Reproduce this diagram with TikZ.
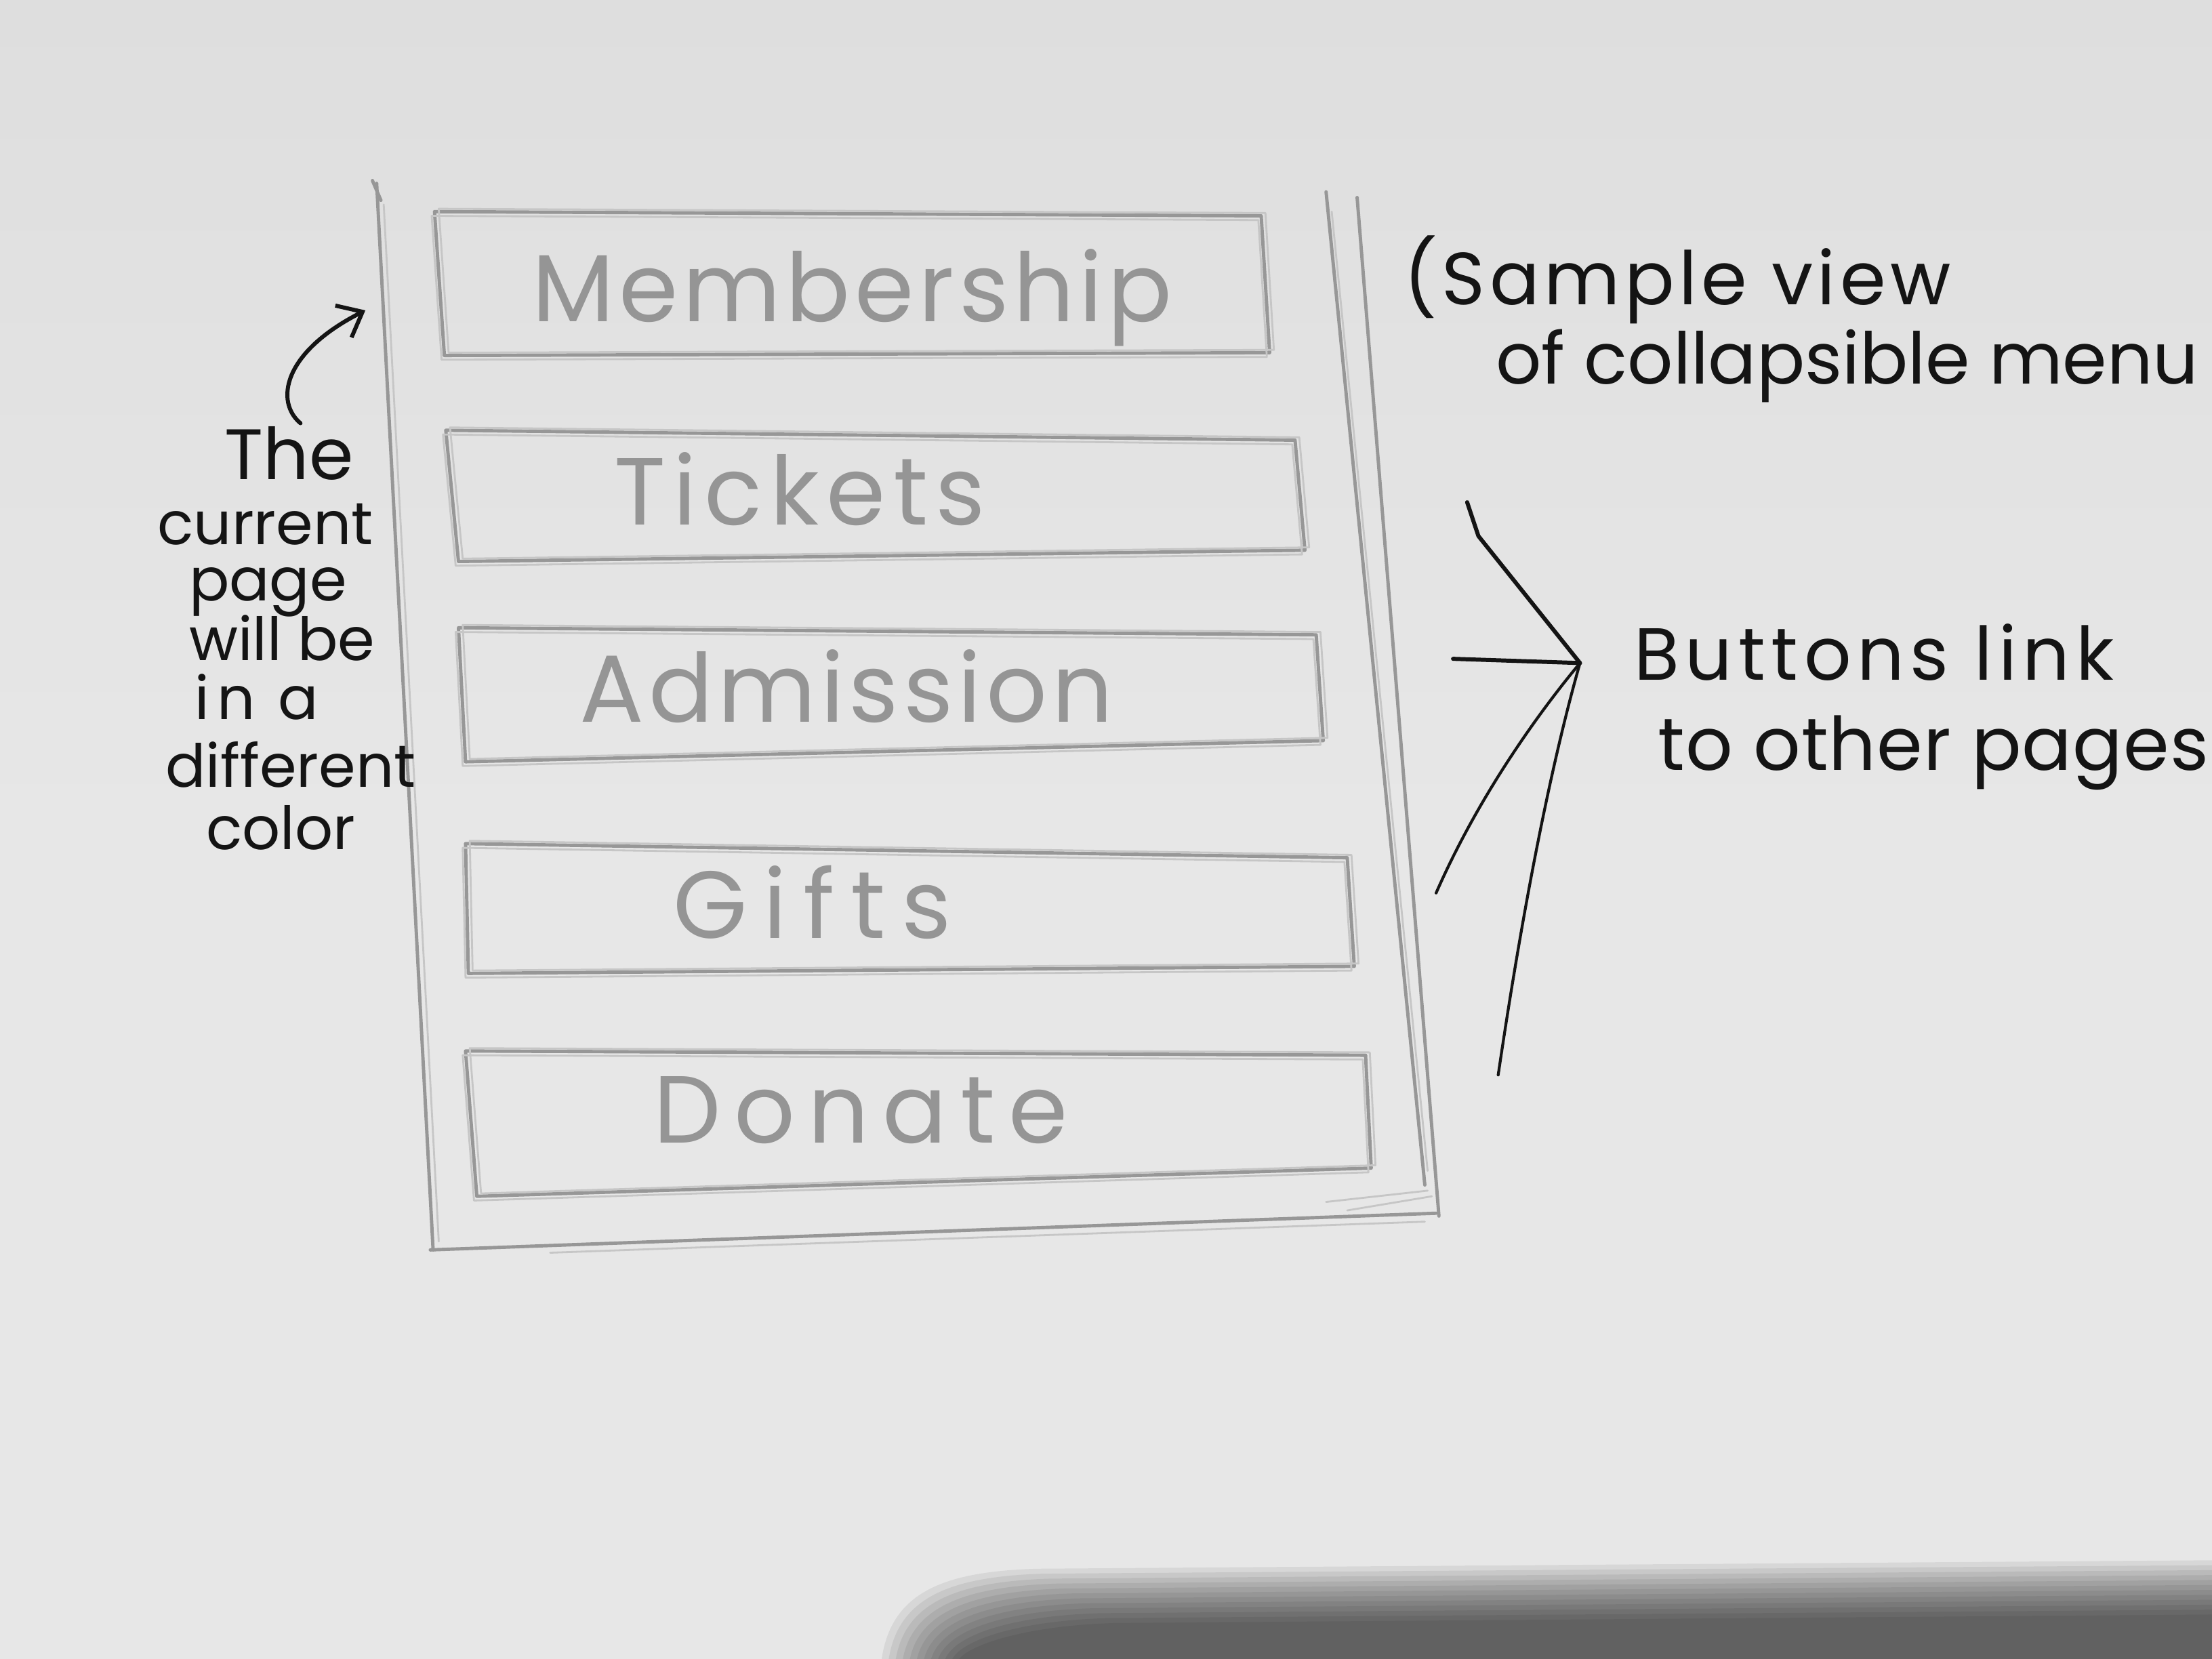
\documentclass[tikz,border=0pt]{standalone}
\usepackage{fontspec}
\setmainfont{Poppins}
\usetikzlibrary{arrows.meta}
\definecolor{paper}{HTML}{E7E7E7}
\definecolor{papertop}{HTML}{DEDEDE}
\definecolor{pencil}{HTML}{979797}
\definecolor{penciltext}{HTML}{959595}
\definecolor{ink}{HTML}{141414}
\newcommand\skbox[4]{%
  \draw[pencilline] #1 -- #2 -- #3 -- #4 -- cycle;
  \draw[pencilfaint,shift={(3,-2)}] #1 -- #2 -- #3 -- #4 -- cycle;
  \draw[pencilfaint,shift={(-2,3)}] #1 -- #2 -- #3 -- #4 -- cycle;}
\begin{document}
\begin{tikzpicture}[x=0.02082cm,y=-0.02082cm,
  pencilline/.style={draw=pencil,line width=1.4pt,line cap=round,line join=round},
  pencilfaint/.style={draw=pencil!55,line width=0.8pt,line cap=round,line join=round},
  inkline/.style={draw=ink,line width=1.7pt,line cap=round,line join=round},
  btntext/.style={text=penciltext,font=\fontsize{40}{48}\selectfont\addfontfeature{LetterSpace=#1},inner sep=0pt,anchor=base},
  btntext/.default=5,
  note/.style={text=ink,font=\fontsize{31}{36}\selectfont\addfontfeature{LetterSpace=#1},inner sep=0pt,anchor=base west},
  note/.default=6,
  leftnote/.style={text=ink,font=\fontsize{25}{30}\selectfont,inner sep=0pt,anchor=base}]
\useasboundingbox (0,0) rectangle (1568,1176);
\clip (0,0) rectangle (1568,1176);
\shade[top color=papertop,bottom color=paper,middle color=paper] (0,0) rectangle (1568,1176);
% soft shadow at the bottom
\foreach \i in {0,...,11}{
  \fill[black,opacity=0.065]
    ({625+5*\i},1176) .. controls ({632+5*\i},{1128+3.5*\i}) and ({670+5*\i},{1114+3.5*\i}) .. ({735+5*\i},{1112+3.5*\i}) -- (1568,{1106+3.5*\i}) -- (1568,1176) -- cycle;
}

% outer frame
\draw[pencilline] (267,130) -- (307,886);
\draw[pencilfaint] (272,145) -- (311,880);
\draw[pencilline] (264,128) -- (270,142);
\draw[pencilline] (305,886) -- (1018,860);
\draw[pencilfaint] (390,888) -- (1010,866);
\draw[pencilline] (940,136) -- (1010,840);
\draw[pencilfaint] (944,150) -- (1012,830);
\draw[pencilline] (962,140) -- (1020,862);
\draw[pencilfaint] (940,852) -- (1012,844);
\draw[pencilfaint] (955,858) -- (1015,848);

% buttons
\skbox{(308,150)}{(894,153)}{(900,250)}{(315,252)}
\skbox{(316,305)}{(918,312)}{(925,390)}{(325,398)}
\skbox{(325,445)}{(933,450)}{(938,525)}{(330,540)}
\skbox{(330,598)}{(955,608)}{(960,685)}{(332,690)}
\skbox{(330,745)}{(968,748)}{(972,828)}{(338,848)}

\node[btntext=5] (bmember) at (604,228) {Membership};
\node[btntext=8] (btickets) at (567,372) {Tickets};
\node[btntext=5] (badmit) at (600,512) {Admission};
\node[btntext=17] (bgifts) at (576,665) {Gifts};
\node[btntext=14] (bdonate) at (610,810) {Donate};

% left note
\node[leftnote,font=\fontsize{30}{34}\selectfont] (l1) at (205,340) {The};
\node[leftnote] (l2) at (188,386) {current};
\node[leftnote] (l3) at (190,426) {page};
\node[leftnote] (l4) at (200,468) {will be};
\node[leftnote,font=\fontsize{25}{30}\selectfont\addfontfeature{LetterSpace=12}] (l5) at (182,510) {in a};
\node[leftnote] (l6) at (206,558) {different};
\node[leftnote] (l7) at (199,602) {color};
\coordinate (arrs) at (213,300);
\coordinate (arre) at (259,220);
\draw[inkline,-{Straight Barb[length=9pt,width=15pt,line width=1.7pt]}]
  (arrs) .. controls (195,285) and (200,250) .. (arre);

% right notes
\node[note=6] (n1) at (995,216) {(Sample view};
\node[note=0,font=\fontsize{30}{36}\selectfont] (n2) at (1060,272) {of collapsible menu};
\node[note=8] (n3) at (1158,482) {Buttons link};
\node[note=1] (n4) at (1175,546) {to other pages};

% converging arrow
\coordinate (hub) at (1120,470);
\coordinate (e1) at (1040,356);
\coordinate (e2) at (1030,467);
\coordinate (e3) at (1018,633);
\coordinate (e4) at (1062,762);
\draw[inkline] (e1) -- (1048,380) -- (hub);
\draw[inkline] (e2) -- (hub);
\draw[inkline,line width=1.2pt] (e3) .. controls (1050,560) and (1095,500) .. (hub);
\draw[inkline,line width=1.2pt] (e4) .. controls (1080,640) and (1100,540) .. (hub);
\end{tikzpicture}
\end{document}
